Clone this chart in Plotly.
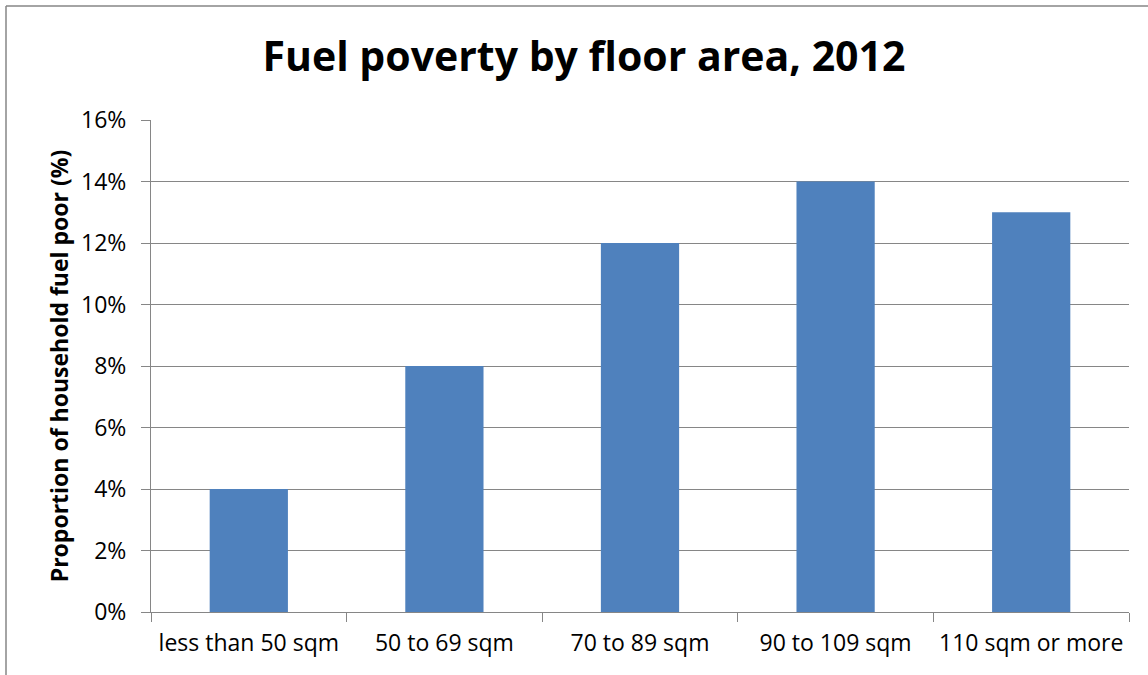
import plotly.graph_objects as go

categories = ["less than 50 sqm", "50 to 69 sqm", "70 to 89 sqm", "90 to 109 sqm", "110 sqm or more"]
values = [0.04, 0.08, 0.12, 0.14, 0.13]
title_text = "Fuel poverty by floor area, 2012"
y_title = "Proportion of household fuel poor (%)"

FONT = "Open Sans"
L, R, T, B = 151, 19, 120, 63
W, H = 1148, 675
pw = W - L - R
ph = H - T - B

fig = go.Figure(go.Bar(x=categories, y=values, marker=dict(color="#4F81BD", line=dict(width=0)), width=0.4))

fig.update_layout(
    width=W, height=H,
    margin=dict(l=L, r=R, t=T, b=B, autoexpand=False),
    paper_bgcolor="white", plot_bgcolor="white",
    showlegend=False,
    title=dict(text="<b>%s</b>" % title_text, x=584 / W, xanchor="center", y=1 - 57 / H, yanchor="middle",
               font=dict(family=FONT, size=41, color="black")),
    font=dict(family=FONT, color="black"),
    bargap=0.6,
)
fig.update_yaxes(range=[0, 0.16], dtick=0.02, tickformat=".0%", showgrid=True, gridcolor="#868686", gridwidth=1,
                 showline=True, linecolor="#868686", linewidth=1, ticks="outside", ticklen=9, tickcolor="#868686",
                 tickfont=dict(size=23, family=FONT), zeroline=False, ticklabelstandoff=10, automargin=False,
                 title=dict(text="<b>%s</b>" % y_title, font=dict(size=23, family=FONT), standoff=6))
fig.update_xaxes(range=[-0.5, len(categories) - 0.5], showline=True, linecolor="#868686", linewidth=1,
                 ticks="outside", ticklen=9, tickcolor="#868686", automargin=False,
                 tickson="boundaries", tickfont=dict(size=23, family=FONT), showgrid=False, ticklabelstandoff=10)

x0 = (6 - L) / pw
x1 = (W - L) / pw
y1 = (H - B - 6) / ph
y0 = -B / ph
fig.add_shape(type="line", xref="paper", yref="paper", x0=x0, x1=x0, y0=y0, y1=y1,
              line=dict(color="#868686", width=1.5))
fig.add_shape(type="line", xref="paper", yref="paper", x0=x0, x1=x1, y0=y1, y1=y1,
              line=dict(color="#868686", width=1.5))

fig.write_html("out.html")
